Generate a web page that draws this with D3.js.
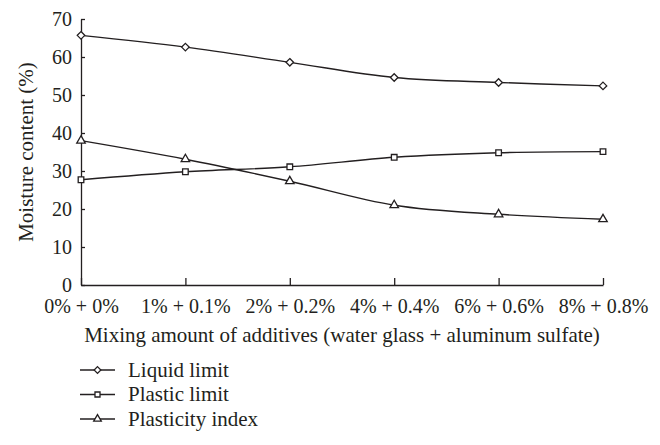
<!DOCTYPE html>
<html>
<head>
<meta charset="utf-8">
<script src="https://cdn.jsdelivr.net/npm/d3@7"></script>
<style>
  body { margin: 0; background: #fff; }
  svg text { font-family: "Liberation Serif", "Times New Roman", serif; fill: #231f20; }
</style>
</head>
<body>
<div id="chart_div"></div>
<script>
const categories = ["0% + 0%", "1% + 0.1%", "2% + 0.2%", "4% + 0.4%", "6% + 0.6%", "8% + 0.8%"];
const liquidLimit = [65.7, 62.6, 58.6, 54.6, 53.3, 52.4];
const plasticLimit = [27.7, 29.8, 31.1, 33.6, 34.8, 35.1];
const plasticityIndex = [38.0, 33.1, 27.3, 21.0, 18.6, 17.3];
const yTicks = [0, 10, 20, 30, 40, 50, 60, 70];

const series = [
    { name: "Liquid limit", values: liquidLimit, symbol: d3.symbolDiamond2, size: 36 },
    { name: "Plastic limit", values: plasticLimit, symbol: d3.symbolSquare2, size: 40 },
    { name: "Plasticity index", values: plasticityIndex, symbol: d3.symbolTriangle2, size: 52 }
];

const width = 660;
const height = 445;
const margin = { left: 81, right: 57, top: 19, bottom: 160 };

const svg = d3.select("#chart_div")
    .append("svg")
    .attr("width", width)
    .attr("height", height);

const x = d3.scalePoint()
    .domain(categories)
    .range([margin.left, width - margin.right])
    .padding(0);

const y = d3.scaleLinear()
    .domain([0, 70])
    .range([height - margin.bottom, margin.top]);

// axes
const xAxis = svg.append("g")
    .attr("transform", `translate(0, ${y(0)})`)
    .call(d3.axisBottom(x).tickSizeInner(-7).tickSizeOuter(0).tickPadding(14));

const yAxis = svg.append("g")
    .attr("transform", `translate(${margin.left},0)`)
    .call(d3.axisLeft(y).tickValues(yTicks).tickSizeInner(-4).tickSizeOuter(0).tickPadding(9));

[xAxis, yAxis].forEach(g => {
    g.selectAll("path, line").attr("stroke", "#231f20").attr("stroke-width", 1.3);
    g.selectAll("text").attr("font-size", 20).attr("font-family", null);
});

// axis titles
svg.append("text")
    .attr("transform", `translate(26, ${(y(0) + y(70)) / 2}) rotate(-90)`)
    .attr("text-anchor", "middle")
    .attr("dy", "0.35em")
    .attr("font-size", 21)
    .text("Moisture content (%)");

svg.append("text")
    .attr("x", (x.range()[0] + x.range()[1]) / 2)
    .attr("y", 342)
    .attr("text-anchor", "middle")
    .attr("font-size", 21)
    .text("Mixing amount of additives (water glass + aluminum sulfate)");

// lines
const line = d3.line()
    .x((d, i) => x(categories[i]))
    .y(d => y(d))
    .curve(d3.curveCatmullRom.alpha(0.5));

series.forEach(s => {
    svg.append("path")
        .datum(s.values)
        .attr("fill", "none")
        .attr("stroke", "#231f20")
        .attr("stroke-width", 1.4)
        .attr("d", line);

    svg.append("g")
        .selectAll("path")
        .data(s.values)
        .enter()
        .append("path")
        .attr("transform", (d, i) => `translate(${x(categories[i])}, ${y(d)})`)
        .attr("d", d3.symbol().type(s.symbol).size(s.size))
        .attr("fill", "#fff")
        .attr("stroke", "#231f20")
        .attr("stroke-width", 1.3);
});

// legend
const legend = svg.append("g")
    .attr("transform", "translate(80, 370)");

series.forEach((s, i) => {
    const row = legend.append("g").attr("transform", `translate(0, ${i * 24.5})`);
    row.append("line")
        .attr("x1", 0).attr("x2", 35)
        .attr("stroke", "#231f20").attr("stroke-width", 1.3);
    row.append("path")
        .attr("transform", "translate(17.5, 0)")
        .attr("d", d3.symbol().type(s.symbol).size(s.size * 0.8))
        .attr("fill", "#fff")
        .attr("stroke", "#231f20")
        .attr("stroke-width", 1.3);
    row.append("text")
        .attr("x", 48)
        .attr("dy", "0.33em")
        .attr("font-size", 21)
        .text(s.name);
});
</script>
</body>
</html>
